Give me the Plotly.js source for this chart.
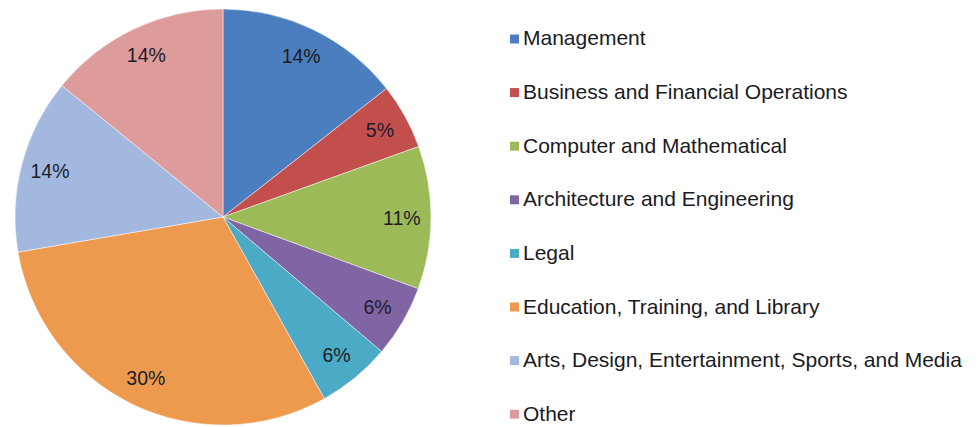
<!DOCTYPE html>
<html>
<head>
<meta charset="utf-8">
<script src="https://cdn.plot.ly/plotly-3.0.1.min.js"></script>
<style>html,body{margin:0;padding:0;background:#fff;}#chart{width:979px;height:427px;}</style>
</head>
<body>
<div id="chart"></div>
<script>
const categories = [
  "Management",
  "Business and Financial Operations",
  "Computer and Mathematical",
  "Architecture and Engineering",
  "Legal",
  "Education, Training, and Library",
  "Arts, Design, Entertainment, Sports, and Media",
  "Other"
];
const shares = [14.4, 5.1, 11.1, 5.6, 5.7, 30.4, 13.6, 14.1];
const percentLabels = ["14%", "5%", "11%", "6%", "6%", "30%", "14%", "14%"];
const colors = ["#4A7EBE", "#C24F4C", "#9CBB58", "#8064A3", "#4BAAC5", "#EE9A4E", "#A3B8DF", "#DD9B9C"];

const W = 979, H = 427;
const cx = 223, cy = 217, R = 208;
const dom = {
  x: [(cx - R) / W, (cx + R) / W],
  y: [(H - cy - R) / H, (H - cy + R) / H]
};

const pieMain = {
  type: "pie",
  labels: categories,
  values: shares,
  sort: false,
  direction: "clockwise",
  rotation: 0,
  marker: { colors: colors, line: { color: "rgba(255,255,255,0.6)", width: 0.8 } },
  textinfo: "none",
  hoverinfo: "label+percent",
  showlegend: false,
  domain: dom
};

const pieLabels = {
  type: "pie",
  labels: categories,
  values: shares,
  text: percentLabels,
  sort: false,
  direction: "clockwise",
  rotation: 0,
  hole: 0.72,
  marker: { colors: categories.map(() => "rgba(0,0,0,0)"), line: { width: 0 } },
  textinfo: "text",
  textposition: "inside",
  insidetextorientation: "horizontal",
  insidetextfont: { family: "Liberation Sans, Arial, sans-serif", size: 19.5, color: "#1c1c28" },
  hoverinfo: "skip",
  showlegend: false,
  domain: dom
};

// legend built from the category arrays
const legendX = 521 / W;
const legendTop = 38, legendStep = 53.6;
const annotations = categories.map((c, i) => ({
  xref: "paper", yref: "paper",
  x: legendX, y: (H - (legendTop + i * legendStep)) / H,
  xanchor: "left", yanchor: "middle",
  text: c, showarrow: false,
  font: { family: "Liberation Sans, Arial, sans-serif", size: 21, color: "#1a1a24" }
}));
const shapes = categories.map((c, i) => {
  const yc = legendTop + i * legendStep + 1;
  return {
    type: "rect", xref: "paper", yref: "paper",
    x0: 510 / W, x1: 519 / W,
    y0: (H - (yc + 4.5)) / H, y1: (H - (yc - 4.5)) / H,
    fillcolor: colors[i], line: { width: 0 }
  };
});

const layout = {
  width: W, height: H,
  margin: { l: 0, r: 0, t: 0, b: 0 },
  paper_bgcolor: "#ffffff",
  showlegend: false,
  annotations: annotations,
  shapes: shapes,
  font: { family: "Liberation Sans, Arial, sans-serif" }
};

Plotly.newPlot("chart", [pieMain, pieLabels], layout, { displayModeBar: false, staticPlot: true });
</script>
</body>
</html>
